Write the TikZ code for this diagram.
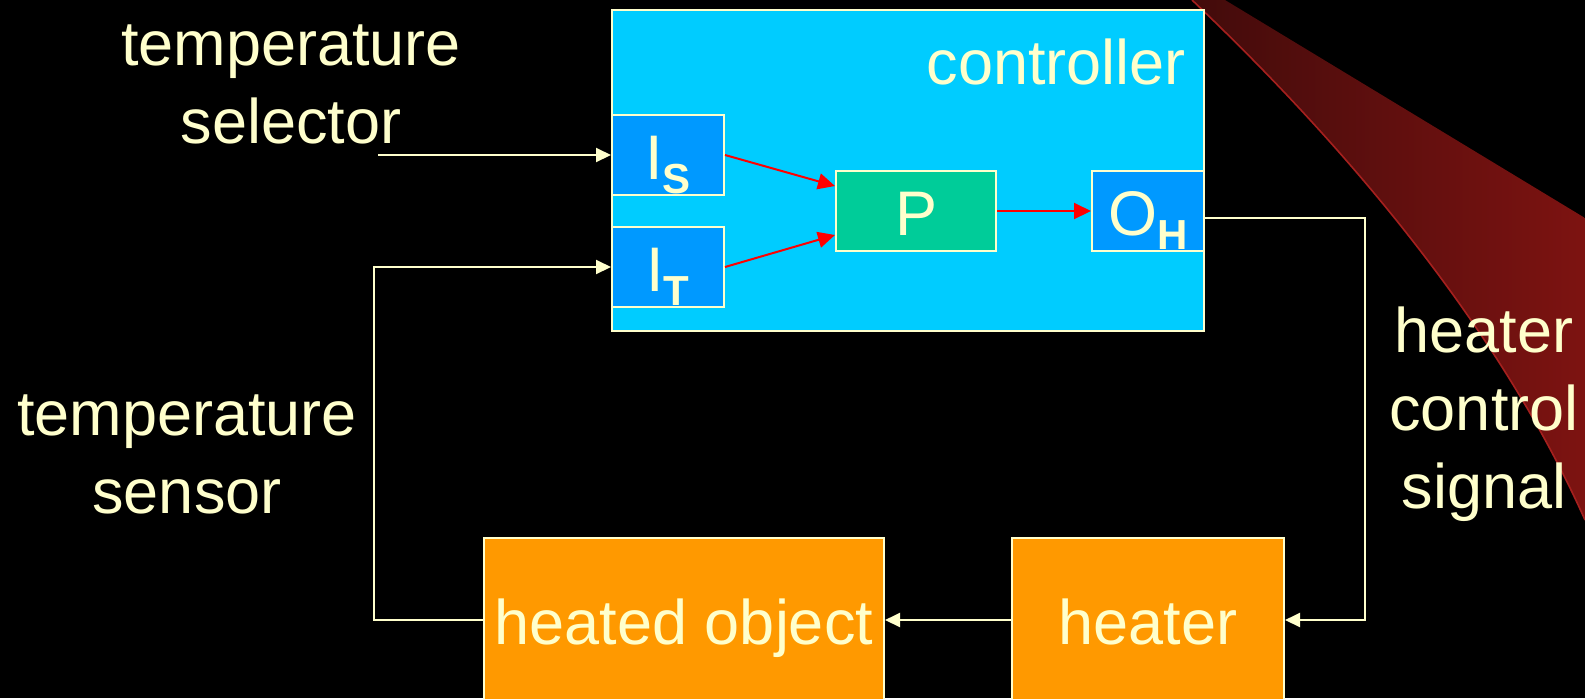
\documentclass[tikz,border=0pt]{standalone}
\usepackage{fontspec}
\setmainfont{Liberation Sans}
\usetikzlibrary{arrows.meta, positioning}
\definecolor{cream}{HTML}{FFFFCC}
\definecolor{ctrlblue}{HTML}{00CCFF}
\definecolor{portblue}{HTML}{0099FF}
\definecolor{procgreen}{HTML}{00CC99}
\definecolor{heatorange}{HTML}{FF9900}
\definecolor{swooshdark}{RGB}{66,11,11}
\definecolor{swooshlight}{RGB}{125,19,17}
\definecolor{swooshedge}{RGB}{165,32,30}

\begin{document}
\begin{tikzpicture}[x=0.5pt, y=-0.5pt, >={Triangle[length=7.5pt,width=7pt]},
    big/.style={font=\fontsize{31.5}{39}\selectfont, text=cream},
    blk/.style={big, draw=cream, line width=1pt, inner sep=0pt,
                text height=24pt, text depth=0pt},
    port/.style={blk, fill=portblue, minimum width=56pt, minimum height=40pt},
    feed/.style={->, cream, line width=1pt},
    sig/.style={-{Triangle[length=8.5pt,width=8pt]}, red, line width=1pt},
    lbl/.style={big, align=center, anchor=base}]
  \clip (0,0) rectangle (1585,698);
  \fill[black] (0,0) rectangle (1585,698);
  % Swoosh
  \shade[left color=swooshdark, right color=swooshlight]
    (1192,0) .. controls (1350,150) and (1500,330) .. (1585,520)
    -- (1585,218) -- (1225,0) -- cycle;
  \draw[swooshedge, line width=0.8pt]
    (1192,0) .. controls (1350,150) and (1500,330) .. (1585,520);
  % Controller
  \node[blk, fill=ctrlblue, minimum width=296pt, minimum height=160.5pt]
    (ctrl) at (908,170.5) {};
  \node[big, anchor=base east] (ctrlname) at (1193,84) {controller};
  \node[port] (IS) at (668,155)
    {I\raisebox{-7pt}{\fontsize{21}{21}\selectfont\bfseries S}};
  \node[port] (IT) at (668,267)
    {I\raisebox{-7pt}{\fontsize{21}{21}\selectfont\bfseries T}};
  \node[blk, fill=procgreen, minimum width=80pt, minimum height=40pt]
    (P) at (916,211) {P};
  \node[port] (OH) at (1148,211)
    {O\raisebox{-7pt}{\fontsize{21}{21}\selectfont\bfseries H}};
  % Plant
  \node[blk, fill=heatorange, minimum width=200pt, minimum height=82pt]
    (heated) at (684,620) {heated object};
  \node[blk, fill=heatorange, minimum width=136pt, minimum height=82pt]
    (heater) at (1148,620) {heater};
  % Labels (base = last line)
  \node[lbl] (selector) at (291,143) {temperature\\selector};
  \node[lbl] (sensor) at (187,513) {temperature\\sensor};
  \node[lbl] (hcs) at (1484,508) {heater\\control\\signal};
  % Loop
  \coordinate (selin) at (378,155);
  \coordinate (loopL) at (374,620);
  \coordinate (loopR) at (1365,218);
  \draw[feed] (selin) -- (IS.west);
  \draw[feed] (heated.west) -- (loopL) |- (IT.west);
  \draw[feed] (OH.east |- loopR) -- (loopR) |- (heater.east);
  \draw[feed] (heater.west) -- (heated.east);
  \draw[sig] (IS.east) -- ([yshift=12.5pt]P.west);
  \draw[sig] (IT.east) -- ([yshift=-12pt]P.west);
  \draw[sig] (P) -- (OH);
\end{tikzpicture}
\end{document}
